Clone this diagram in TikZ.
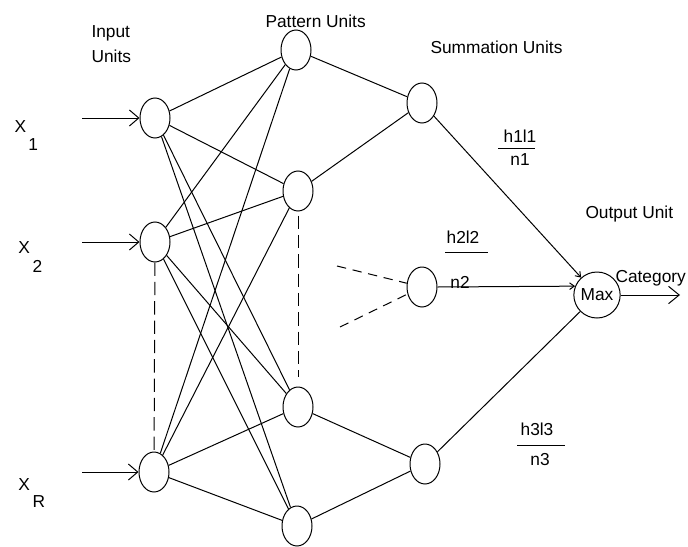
\documentclass[tikz,border=0pt]{standalone}
\usepackage{fontspec}
\setmainfont{Liberation Sans}
\usetikzlibrary{shapes.geometric,arrows.meta}
\begin{document}
\begin{tikzpicture}[x=0.75pt,y=-0.75pt,line width=0.75pt,
  unit/.style={draw,ellipse,inner sep=0pt,minimum width=22.5pt,minimum height=30pt},
  maxunit/.style={draw,ellipse,inner sep=0pt,minimum width=29pt,minimum height=34.5pt,font=\fontsize{13}{15}\selectfont},
  lbl/.style={inner sep=0pt,font=\fontsize{13}{15}\selectfont},
  link/.style={draw},
  inarrow/.style={-{Straight Barb[length=7pt,width=12pt]}},
  outarrow/.style={-{Straight Barb[length=8pt,width=13pt]}},
  maxarrow/.style={-{Straight Barb[length=3.5pt,width=5pt]}},
  vdash/.style={dash pattern=on 10pt off 4.5pt},
  sdash/.style={dash pattern=on 7pt off 5pt}]
\useasboundingbox (0,0) rectangle (688,546);
% units
\node[unit] (I1) at (155,118) {};
\node[unit] (I2) at (155,242) {};
\node[unit] (IR) at (154,472) {};
\node[unit] (P1) at (296,50) {};
\node[unit] (P2) at (298,191) {};
\node[unit] (P3) at (298,407) {};
\node[unit] (P4) at (297,526) {};
\node[unit] (S1) at (422,103) {};
\node[unit] (S2) at (422,287) {};
\node[unit] (S3) at (425,464) {};
\node[maxunit] (Mx) at (597,295) {Max};
% labels
\node[lbl,anchor=base west] (tin) at (91,37) {Input};
\node[lbl,anchor=base west] (tinu) at (91,62) {Units};
\node[lbl,anchor=base west] (tpat) at (265,27) {Pattern Units};
\node[lbl,anchor=base west] (tsum) at (430,53) {Summation Units};
\node[lbl,anchor=base west] (tout) at (585,218) {Output Unit};
\node[lbl,anchor=base west] (tcat) at (615,282) {Category};
\node[lbl,anchor=base west] (x1) at (14,132) {X};
\node[lbl,anchor=base west] (x1s) at (28,150) {1};
\node[lbl,anchor=base west] (x2) at (18,253) {X};
\node[lbl,anchor=base west] (x2s) at (32,272) {2};
\node[lbl,anchor=base west] (xr) at (18,490) {X};
\node[lbl,anchor=base west] (xrs) at (32,507) {R};
\node[lbl,anchor=base] (f1t) at (520,142) {h1l1};
\node[lbl,anchor=base] (f1b) at (520,165) {n1};
\node[lbl,anchor=base] (f2t) at (463,243) {h2l2};
\node[lbl,anchor=base] (f2b) at (460,288) {n2};
\node[lbl,anchor=base] (f3t) at (537,435) {h3l3};
\node[lbl,anchor=base] (f3b) at (540,465) {n3};
% fraction bars
\coordinate (b1a) at (498,148); \coordinate (b1b) at (535,148);
\coordinate (b2a) at (445,252); \coordinate (b2b) at (488,252);
\coordinate (b3a) at (517,445); \coordinate (b3b) at (565,445);
\draw (b1a) -- (b1b);
\draw (b2a) -- (b2b);
\draw (b3a) -- (b3b);
% inputs
\coordinate (a1) at (82,118);
\coordinate (a2) at (82,242);
\coordinate (ar) at (82,472);
\draw[inarrow] (a1) -- (I1);
\draw[inarrow] (a2) -- (I2);
\draw[inarrow] (ar) -- (IR);
% input to pattern (full)
\foreach \i in {I1,I2,IR}{
  \foreach \p in {P1,P2,P3,P4}{
    \draw[link] (\i) -- (\p);
  }
}
% pattern to summation
\draw[link] (P1) -- (S1);
\draw[link] (P2) -- (S1);
\draw[link] (P3) -- (S3);
\draw[link] (P4) -- (S3);
% dashed
\draw[vdash] (I2) -- (IR);
\draw[vdash,shorten <=3pt,shorten >=7pt] (P2) -- (P3);
\coordinate (d1) at (337,266);
\coordinate (d2) at (340,327);
\draw[sdash] (d1) -- (S2);
\draw[sdash] (d2) -- (S2);
% summation to output
\draw[maxarrow] (S1) -- (Mx);
\draw[maxarrow] (S2.east) -- (Mx.158);
\draw[link] (S3) -- (Mx);
\coordinate (cend) at (680,295);
\draw[outarrow] (Mx) -- (cend);
\end{tikzpicture}
\end{document}
